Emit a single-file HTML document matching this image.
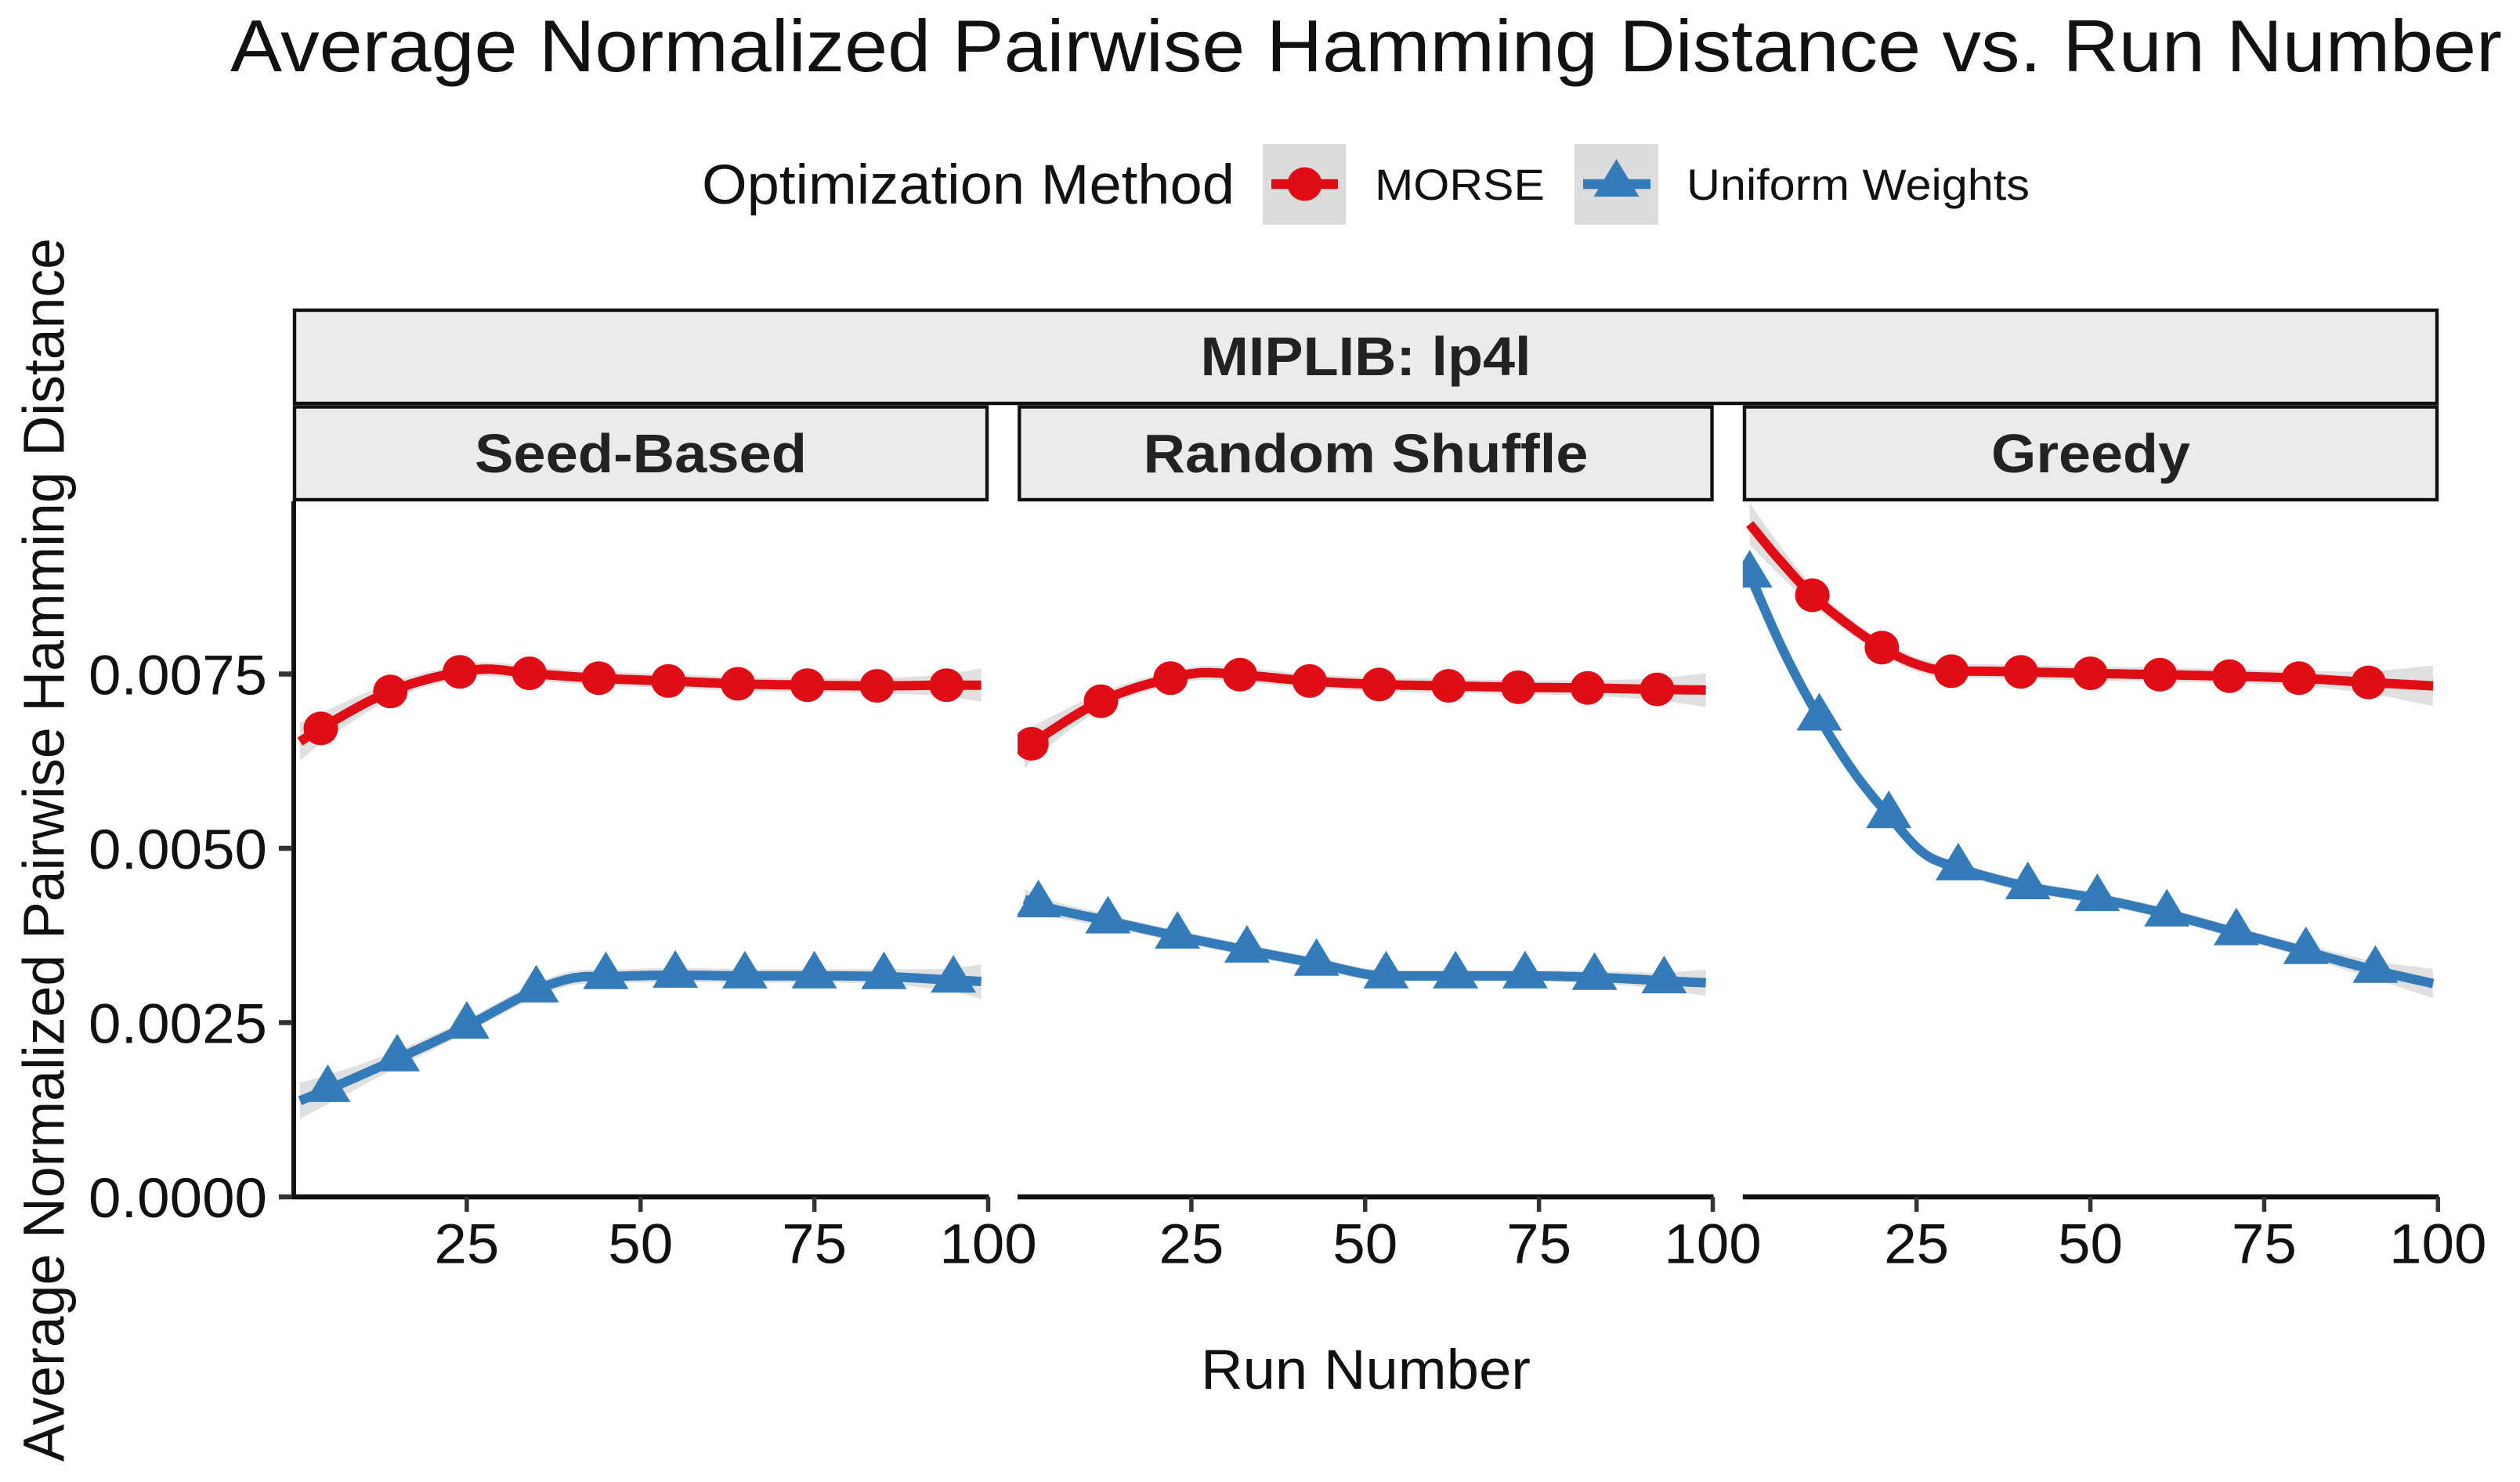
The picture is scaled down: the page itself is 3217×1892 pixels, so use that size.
<!DOCTYPE html>
<html lang="en">
<head>
<meta charset="utf-8">
<title>Average Normalized Pairwise Hamming Distance vs. Run Number</title>
<style>
html,body{margin:0;padding:0;background:#fff;}
svg{display:block;}
text{font-family:"Liberation Sans",Arial,sans-serif;fill:#111;}
.strip-box{fill:#ebebeb;stroke:#111;stroke-width:4.4;}
.strip-label{font-weight:bold;font-size:70px;fill:#222;text-anchor:middle;}
</style>
</head>
<body>
<svg id="chart" xmlns="http://www.w3.org/2000/svg" width="3217" height="1892" viewBox="0 0 3217 1892">
  <rect x="0" y="0" width="3217" height="1892" fill="#ffffff"/>
  <text x="294" y="91" font-size="94" textLength="2900" lengthAdjust="spacingAndGlyphs">Average Normalized Pairwise Hamming Distance vs. Run Number</text>

  <g>
    <text x="896" y="260" font-size="71" textLength="680" lengthAdjust="spacingAndGlyphs">Optimization Method</text>
    <g>
      <rect x="1612" y="184" width="106" height="103" fill="#dcdcdc"/>
      <line x1="1623" x2="1708" y1="235" y2="235" stroke="#e00d16" stroke-width="12.5"/>
      <ellipse cx="1665.5" cy="235" rx="22" ry="21.5" fill="#e00d16"/>
      <text x="1755" y="255" font-size="56" textLength="217" lengthAdjust="spacingAndGlyphs">MORSE</text>
    </g>
    <g>
      <rect x="2010" y="184" width="107" height="103" fill="#dcdcdc"/>
      <line x1="2021" x2="2107" y1="235" y2="235" stroke="#337bb9" stroke-width="12.5"/>
      <polygon points="2063.5,203 2092.5,251 2034.5,251" fill="#337bb9"/>
      <text x="2153" y="255" font-size="56" textLength="438" lengthAdjust="spacingAndGlyphs">Uniform Weights</text>
    </g>
  </g>

  <text transform="translate(81.5,1866) rotate(-90)" x="0" y="0" font-size="74" textLength="1562" lengthAdjust="spacingAndGlyphs">Average Normalized Pairwise Hamming Distance</text>
  <text x="1533" y="1773" font-size="71" textLength="421" lengthAdjust="spacingAndGlyphs">Run Number</text>

  <g>
    <rect class="strip-box" x="376" y="396" width="2735" height="119"/>
    <text class="strip-label" x="1743.5" y="479" textLength="422" lengthAdjust="spacingAndGlyphs">MIPLIB: lp4l</text>
    <rect class="strip-box" x="376" y="519.5" width="884" height="118.5"/>
    <text class="strip-label" x="818" y="603" textLength="424" lengthAdjust="spacingAndGlyphs">Seed-Based</text>
    <rect class="strip-box" x="1301.3" y="519.5" width="884.2" height="118.5"/>
    <text class="strip-label" x="1743.5" y="603" textLength="568" lengthAdjust="spacingAndGlyphs">Random Shuffle</text>
    <rect class="strip-box" x="2227" y="519.5" width="884" height="118.5"/>
    <text class="strip-label" x="2669" y="603" textLength="254" lengthAdjust="spacingAndGlyphs">Greedy</text>
  </g>
  <g id="plot"></g>
</svg>

<script>
// Tick values and labels
const xTickValues = [25, 50, 75, 100];
const xTickLabels = ['25', '50', '75', '100'];
const yTickValues = [0, 0.0025, 0.005, 0.0075];
const yTickLabels = ['0.0000', '0.0025', '0.0050', '0.0075'];

// Seed-Based panel
const seedMorseRuns = [1, 4, 14, 24, 28, 34, 44, 54, 64, 74, 84, 94, 99];
const seedMorseVals = [0.00653, 0.00672, 0.00725, 0.00753, 0.00757, 0.00751, 0.00744, 0.0074, 0.00736, 0.00734, 0.00733, 0.00734, 0.00734];
const seedMorseCi = [0.00027, 0.00022, 0.00012, 0.0001, 0.0001, 0.0001, 0.0001, 0.0001, 0.0001, 0.0001, 0.00011, 0.00016, 0.00024];
const seedMorseMarkers = [4, 14, 24, 34, 44, 54, 64, 74, 84, 94];
const seedUniformRuns = [1, 5, 15, 25, 35, 38, 41, 45, 55, 65, 75, 85, 95, 99];
const seedUniformVals = [0.00138, 0.00154, 0.00198, 0.00245, 0.00297, 0.00308, 0.00315, 0.00316, 0.00318, 0.00317, 0.00317, 0.00316, 0.00311, 0.00309];
const seedUniformCi = [0.00026, 0.00021, 0.00012, 0.0001, 0.0001, 0.0001, 0.0001, 0.0001, 0.0001, 0.0001, 0.0001, 0.00011, 0.00017, 0.00025];
const seedUniformMarkers = [5, 15, 25, 35, 45, 55, 65, 75, 85, 95];

// Random Shuffle panel
const randMorseRuns = [1, 2, 12, 22, 27, 32, 42, 52, 62, 72, 82, 92, 99];
const randMorseVals = [0.00643, 0.0065, 0.00711, 0.00744, 0.00752, 0.00749, 0.0074, 0.00735, 0.00733, 0.00731, 0.0073, 0.00728, 0.00727];
const randMorseCi = [0.00028, 0.00025, 0.00012, 0.0001, 0.0001, 0.0001, 0.0001, 0.0001, 0.0001, 0.0001, 0.00011, 0.00016, 0.00024];
const randMorseMarkers = [2, 12, 22, 32, 42, 52, 62, 72, 82, 92];
const randUniformRuns = [1, 3, 13, 23, 33, 43, 53, 63, 73, 83, 93, 99];
const randUniformVals = [0.00427, 0.00419, 0.00396, 0.00374, 0.00354, 0.00335, 0.00317, 0.00317, 0.00317, 0.00315, 0.0031, 0.00307];
const randUniformCi = [0.00015, 0.00013, 0.00009, 0.00008, 0.00008, 0.00008, 0.00008, 0.00008, 0.00008, 0.00009, 0.00012, 0.00019];
const randUniformMarkers = [3, 13, 23, 33, 43, 53, 63, 73, 83, 93];

// Greedy panel
const greedyMorseRuns = [1, 5, 10, 15, 20, 25, 30, 35, 40, 50, 60, 70, 80, 90, 99.3];
const greedyMorseVals = [0.00965, 0.00917, 0.00863, 0.00822, 0.00788, 0.00764, 0.00754, 0.00754, 0.00753, 0.00751, 0.00749, 0.00747, 0.00744, 0.00738, 0.00733];
const greedyMorseCi = [0.0003, 0.00022, 0.00014, 0.00011, 0.0001, 0.0001, 0.0001, 0.0001, 0.0001, 0.0001, 0.0001, 0.0001, 0.00011, 0.00016, 0.00029];
const greedyMorseMarkers = [10, 20, 30, 40, 50, 60, 70, 80, 90];
const greedyUniformRuns = [1, 6, 11, 16, 21, 26, 31, 41, 51, 61, 71, 81, 91, 99.3];
const greedyUniformVals = [0.00892, 0.0078, 0.00687, 0.00609, 0.00547, 0.00493, 0.00472, 0.00445, 0.00428, 0.00406, 0.00379, 0.00352, 0.00325, 0.00306];
const greedyUniformCi = [0.0002, 0.00014, 0.0001, 0.00008, 0.00008, 0.00008, 0.00008, 0.00008, 0.00008, 0.00008, 0.00008, 0.00009, 0.00013, 0.00021];
const greedyUniformMarkers = [1, 11, 21, 31, 41, 51, 61, 71, 81, 91];

const SVG_NS = 'http://www.w3.org/2000/svg';
const plot = document.getElementById('plot');
const Y_ZERO = 1528, Y_SCALE = 89000, PANEL_TOP = 640, X_SCALE = 8.875;
const RED = '#e00d16', BLUE = '#337bb9', BAND = '#e0e0e0';

function yPos(v) { return Y_ZERO - v * Y_SCALE; }

// Monotone cubic Hermite interpolant through the knots
function makeCurve(xs, ys) {
  const n = xs.length, d = [], m = [];
  for (let i = 0; i < n - 1; i++) d.push((ys[i + 1] - ys[i]) / (xs[i + 1] - xs[i]));
  m.push(d[0]);
  for (let i = 1; i < n - 1; i++) m.push(d[i - 1] * d[i] <= 0 ? 0 : (d[i - 1] + d[i]) / 2);
  m.push(d[n - 2]);
  return function (x) {
    let i = 0;
    while (i < n - 2 && x > xs[i + 1]) i++;
    const h = xs[i + 1] - xs[i], t = (x - xs[i]) / h, t2 = t * t, t3 = t2 * t;
    return (2 * t3 - 3 * t2 + 1) * ys[i] + (t3 - 2 * t2 + t) * h * m[i] +
           (-2 * t3 + 3 * t2) * ys[i + 1] + (t3 - t2) * h * m[i + 1];
  };
}

function drawSeries(parent, xOrigin, series) {
  const xPos = r => xOrigin + r * X_SCALE;
  const curve = makeCurve(series.runs, series.vals);
  const ciCurve = makeCurve(series.runs, series.ci);
  const first = series.runs[0], last = series.runs[series.runs.length - 1];
  const samples = [];
  for (let r = first; r < last; r += 0.5) samples.push(r);
  samples.push(last);

  const upper = samples.map(r => xPos(r).toFixed(1) + ',' + yPos(curve(r) + ciCurve(r)).toFixed(1));
  const lower = samples.slice().reverse().map(r => xPos(r).toFixed(1) + ',' + yPos(curve(r) - ciCurve(r)).toFixed(1));
  const band = document.createElementNS(SVG_NS, 'polygon');
  
  
  band.setAttribute('points', upper.concat(lower).join(' '));
  band.setAttribute('fill', BAND);
  parent.appendChild(band);

  const line = document.createElementNS(SVG_NS, 'polyline');
  
  
  line.setAttribute('points', samples.map(r => xPos(r).toFixed(1) + ',' + yPos(curve(r)).toFixed(1)).join(' '));
  line.setAttribute('fill', 'none');
  line.setAttribute('stroke', series.color);
  line.setAttribute('stroke-width', '12');
  parent.appendChild(line);

  series.markers.forEach(function (r) {
    const cx = xPos(r), cy = yPos(curve(r));
    let mark;
    if (series.shape === 'circle') {
      mark = document.createElementNS(SVG_NS, 'ellipse');
      mark.setAttribute('cx', cx.toFixed(1));
      mark.setAttribute('cy', cy.toFixed(1));
      mark.setAttribute('rx', '22');
      mark.setAttribute('ry', '21.5');
    } else {
      mark = document.createElementNS(SVG_NS, 'polygon');
      mark.setAttribute('points', cx.toFixed(1) + ',' + (cy - 32).toFixed(1) + ' ' +
        (cx + 29).toFixed(1) + ',' + (cy + 16).toFixed(1) + ' ' + (cx - 29).toFixed(1) + ',' + (cy + 16).toFixed(1));
    }
    
    
    mark.setAttribute('fill', series.color);
    parent.appendChild(mark);
  });
}

const panels = [
  { key: 'seed-based', origin: 374, series: [
    { key: 'seed-morse', runs: seedMorseRuns, vals: seedMorseVals, ci: seedMorseCi, markers: seedMorseMarkers, color: RED, shape: 'circle' },
    { key: 'seed-uniform', runs: seedUniformRuns, vals: seedUniformVals, ci: seedUniformCi, markers: seedUniformMarkers, color: BLUE, shape: 'triangle' } ] },
  { key: 'random-shuffle', origin: 1299, series: [
    { key: 'random-morse', runs: randMorseRuns, vals: randMorseVals, ci: randMorseCi, markers: randMorseMarkers, color: RED, shape: 'circle' },
    { key: 'random-uniform', runs: randUniformRuns, vals: randUniformVals, ci: randUniformCi, markers: randUniformMarkers, color: BLUE, shape: 'triangle' } ] },
  { key: 'greedy', origin: 2224.8, series: [
    { key: 'greedy-morse', runs: greedyMorseRuns, vals: greedyMorseVals, ci: greedyMorseCi, markers: greedyMorseMarkers, color: RED, shape: 'circle' },
    { key: 'greedy-uniform', runs: greedyUniformRuns, vals: greedyUniformVals, ci: greedyUniformCi, markers: greedyUniformMarkers, color: BLUE, shape: 'triangle' } ] }
];

const defs = document.createElementNS(SVG_NS, 'defs');
plot.appendChild(defs);

panels.forEach(function (panel) {
  const g = document.createElementNS(SVG_NS, 'g');
  
  
  plot.appendChild(g);

  const clip = document.createElementNS(SVG_NS, 'clipPath');
  clip.setAttribute('id', 'clip-' + panel.key);
  const clipRect = document.createElementNS(SVG_NS, 'rect');
  clipRect.setAttribute('x', panel.origin);
  clipRect.setAttribute('y', PANEL_TOP);
  clipRect.setAttribute('width', 100 * X_SCALE);
  clipRect.setAttribute('height', Y_ZERO - PANEL_TOP);
  clip.appendChild(clipRect);
  defs.appendChild(clip);

  const marks = document.createElementNS(SVG_NS, 'g');
  
  
  marks.setAttribute('clip-path', 'url(#clip-' + panel.key + ')');
  g.appendChild(marks);
  panel.series.forEach(s => drawSeries(marks, panel.origin, s));

  const axis = document.createElementNS(SVG_NS, 'line');
  
  
  axis.setAttribute('x1', panel.origin);
  axis.setAttribute('x2', panel.origin + 100 * X_SCALE + 1);
  axis.setAttribute('y1', Y_ZERO);
  axis.setAttribute('y2', Y_ZERO);
  axis.setAttribute('stroke', '#111');
  axis.setAttribute('stroke-width', '6.5');
  g.appendChild(axis);

  xTickValues.forEach(function (v, i) {
    const x = panel.origin + v * X_SCALE;
    const tick = document.createElementNS(SVG_NS, 'line');
    
    
    tick.setAttribute('x1', x);
    tick.setAttribute('x2', x);
    tick.setAttribute('y1', Y_ZERO);
    tick.setAttribute('y2', Y_ZERO + 19);
    tick.setAttribute('stroke', '#333');
    tick.setAttribute('stroke-width', '5.5');
    g.appendChild(tick);

    const label = document.createElementNS(SVG_NS, 'text');
    
    
    label.setAttribute('x', x);
    label.setAttribute('y', Y_ZERO + 84.5);
    label.setAttribute('font-size', '71');
    label.setAttribute('text-anchor', 'middle');
    label.setAttribute('textLength', (xTickLabels[i].length * 41.5).toFixed(1));
    label.setAttribute('lengthAdjust', 'spacingAndGlyphs');
    label.textContent = xTickLabels[i];
    g.appendChild(label);
  });
});

const yAxis = document.createElementNS(SVG_NS, 'g');


plot.appendChild(yAxis);

const yLine = document.createElementNS(SVG_NS, 'line');


yLine.setAttribute('x1', 375);
yLine.setAttribute('x2', 375);
yLine.setAttribute('y1', PANEL_TOP);
yLine.setAttribute('y2', Y_ZERO + 3);
yLine.setAttribute('stroke', '#111');
yLine.setAttribute('stroke-width', '6');
yAxis.appendChild(yLine);

yTickValues.forEach(function (v, i) {
  const y = yPos(v);
  const tick = document.createElementNS(SVG_NS, 'line');
  
  
  tick.setAttribute('x1', 356);
  tick.setAttribute('x2', 373);
  tick.setAttribute('y1', y);
  tick.setAttribute('y2', y);
  tick.setAttribute('stroke', '#333');
  tick.setAttribute('stroke-width', '6.5');
  yAxis.appendChild(tick);

  const label = document.createElementNS(SVG_NS, 'text');
  
  
  label.setAttribute('x', 113);
  label.setAttribute('y', y + 26);
  label.setAttribute('font-size', '71');
  label.setAttribute('textLength', '228');
  label.setAttribute('lengthAdjust', 'spacingAndGlyphs');
  label.textContent = yTickLabels[i];
  yAxis.appendChild(label);
});
</script>
</body>
</html>
